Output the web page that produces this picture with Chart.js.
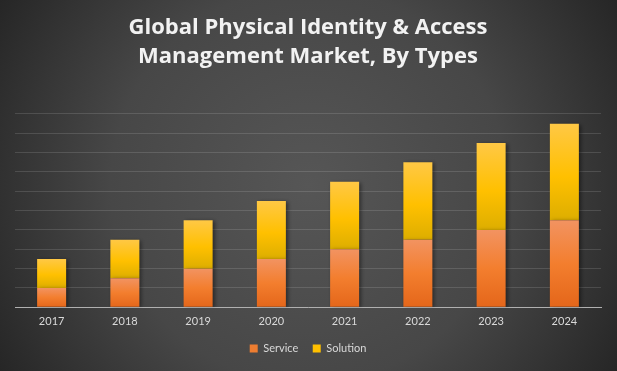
<!DOCTYPE html>
<html>
<head>
<meta charset="utf-8">
<script src="https://cdn.jsdelivr.net/npm/chart.js@4"></script>
<style>
html,body{margin:0;padding:0;background:#3a3a3a;}
#wrap{width:617px;height:371px;position:relative;}
</style>
</head>
<body>
<div id="wrap"><canvas id="c" width="617" height="371"></canvas></div>
<script>
const categories = ['2017','2018','2019','2020','2021','2022','2023','2024'];
const serviceValues = [1.0, 1.5, 2.0, 2.5, 3.0, 3.5, 4.0, 4.5];
const solutionValues = [1.5, 2.0, 2.5, 3.0, 3.5, 4.0, 4.5, 5.0];
const seriesNames = ['Service', 'Solution'];
const titleLines = ['Global Physical Identity & Access', 'Management Market, By Types'];

const bgPlugin = {
  id: 'bg',
  beforeDraw(chart) {
    const ctx = chart.ctx, w = chart.width, h = chart.height;
    ctx.save();
    const g = ctx.createRadialGradient(w/2, h/2, 0, w/2, h/2, Math.sqrt(w*w+h*h)/2);
    g.addColorStop(0, '#565656');
    g.addColorStop(0.55, '#474747');
    g.addColorStop(1, '#262626');
    ctx.fillStyle = g;
    ctx.fillRect(0, 0, w, h);
    ctx.restore();
  }
};
const shadowPlugin = {
  id: 'shadow',
  beforeDatasetsDraw(chart) {
    const ctx = chart.ctx;
    ctx.save();
    ctx.shadowColor = 'rgba(0,0,0,0.45)';
    ctx.shadowBlur = 4;
    ctx.shadowOffsetX = 2;
    ctx.shadowOffsetY = 1;
  },
  afterDatasetsDraw(chart) { chart.ctx.restore(); }
};

function segGradient(ctx, lowVals, highVals, stops) {
  const chart = ctx.chart;
  if (!chart.chartArea || ctx.dataIndex === undefined) return stops[stops.length-1][1];
  const y = chart.scales.y;
  const i = ctx.dataIndex;
  const lo = lowVals ? lowVals[i] : 0;
  const hi = lo + highVals[i];
  const yTop = y.getPixelForValue(hi), yBot = y.getPixelForValue(lo);
  const g = chart.ctx.createLinearGradient(0, yTop, 0, yBot);
  stops.forEach(s => g.addColorStop(s[0], s[1]));
  return g;
}

new Chart(document.getElementById('c'), {
  type: 'bar',
  data: {
    labels: categories,
    datasets: [
      {
        label: seriesNames[0],
        data: serviceValues,
        backgroundColor: c => segGradient(c, null, serviceValues, [[0,'#F29361'],[0.5,'#F37E2E'],[1,'#E4661A']]),
        borderWidth: 0
      },
      {
        label: seriesNames[1],
        data: solutionValues,
        backgroundColor: c => segGradient(c, serviceValues, solutionValues, [[0,'#FFC845'],[0.55,'#FFC000'],[1,'#DDAE00']]),
        borderWidth: 0
      }
    ]
  },
  options: {
    responsive: false,
    animation: false,
    devicePixelRatio: 1,
    layout: { padding: { left: 15, right: 16, top: 0, bottom: 7 } },
    categoryPercentage: 0.8,
    barPercentage: 0.495,
    scales: {
      x: {
        stacked: true,
        grid: { display: false },
        border: { display: true, color: '#b0b0b0', width: 1 },
        ticks: { color: '#d9d9d9', font: { family: 'Lato', size: 11 }, padding: 0 }
      },
      y: {
        stacked: true,
        min: 0, max: 10,
        ticks: { display: false, stepSize: 1 },
        grid: { color: 'rgba(255,255,255,0.13)', drawTicks: false },
        border: { display: false }
      }
    },
    plugins: {
      title: {
        display: true,
        text: titleLines,
        color: '#f2f2f2',
        font: { family: 'Open Sans', size: 22, weight: 'bold', lineHeight: 1.318 },
        padding: { top: 13, bottom: 43 }
      },
      legend: {
        position: 'bottom',
        labels: {
          color: '#d9d9d9',
          font: { family: 'Lato', size: 11 },
          boxWidth: 8, boxHeight: 8,
          padding: 14.5,
          generateLabels: () => [
            { text: seriesNames[0], fillStyle: '#ED7D31', strokeStyle: '#ED7D31', lineWidth: 0, fontColor: '#d9d9d9', datasetIndex: 0 },
            { text: seriesNames[1], fillStyle: '#FFC000', strokeStyle: '#FFC000', lineWidth: 0, fontColor: '#d9d9d9', datasetIndex: 1 }
          ]
        }
      },
      tooltip: { enabled: false }
    }
  },
  plugins: [bgPlugin, shadowPlugin]
});
</script>
</body>
</html>
